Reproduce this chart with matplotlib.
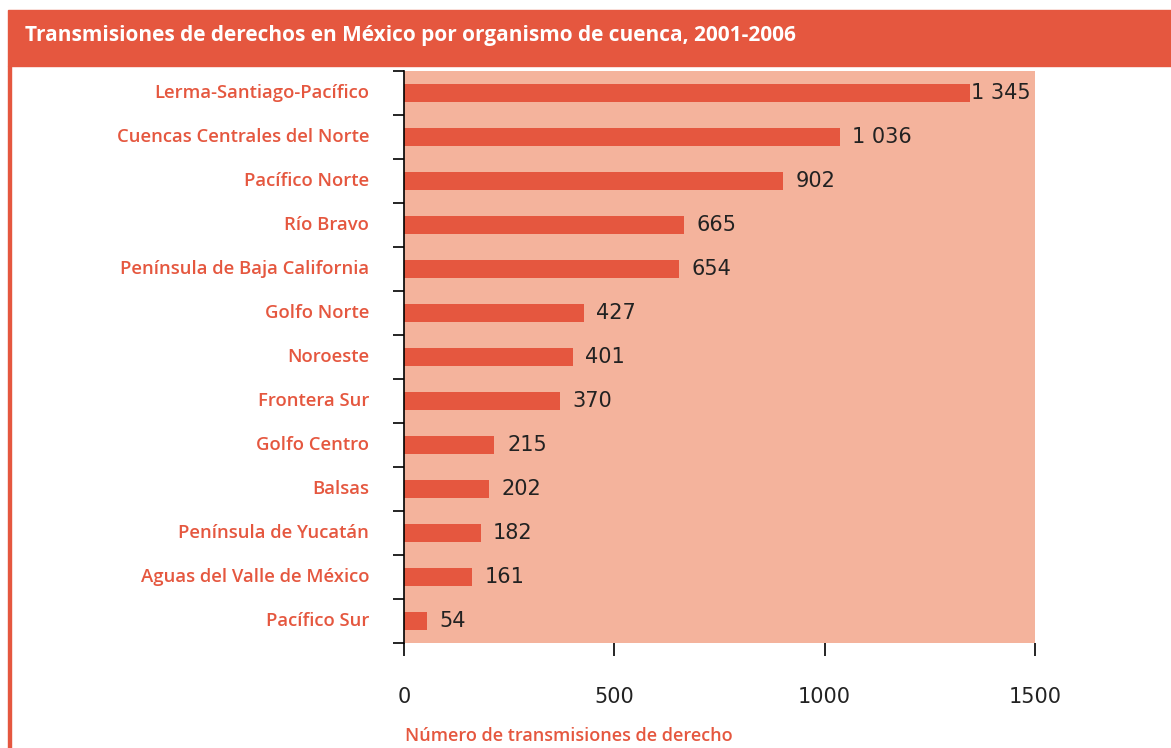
import matplotlib.pyplot as plt
import matplotlib.patches as mpatches

# Data (top to bottom)
organismos = ['Lerma-Santiago-Pacífico', 'Cuencas Centrales del Norte', 'Pacífico Norte',
              'Río Bravo', 'Península de Baja California', 'Golfo Norte', 'Noroeste',
              'Frontera Sur', 'Golfo Centro', 'Balsas', 'Península de Yucatán',
              'Aguas del Valle de México', 'Pacífico Sur']
transmisiones = [1345, 1036, 902, 665, 654, 427, 401, 370, 215, 202, 182, 161, 54]
etiquetas = ['1 345', '1 036', '902', '665', '654', '427', '401', '370', '215', '202',
             '182', '161', '54']
x_ticks = [0, 500, 1000, 1500]

RED = '#E5573F'
BG = '#F4B39C'

fig = plt.figure(figsize=(11.71, 7.48), dpi=100)

# header band and left border
fig.patches.append(mpatches.Rectangle((8 / 1171, 1 - 66 / 748), 1, 56 / 748,
                                      transform=fig.transFigure, color=RED, zorder=0))
fig.patches.append(mpatches.Rectangle((8 / 1171, 0), 3 / 1171, 1 - 66 / 748,
                                      transform=fig.transFigure, color=RED, zorder=0))
fig.text(25 / 1171, 1 - 35 / 748,
         'Transmisiones de derechos en México por organismo de cuenca, 2001-2006',
         color='white', fontsize=15, fontweight='bold', family='Open Sans', va='center')

ax = fig.add_axes([404 / 1171, 1 - 643 / 748, 631 / 1171, 572 / 748])
ax.set_facecolor(BG)

n = len(organismos)
ypos = list(range(n))
ax.barh(ypos, transmisiones, height=0.4, color=RED, zorder=2)
ax.set_ylim(n - 0.5, -0.5)
ax.set_xlim(0, 1500)

for y, v, lab in zip(ypos, transmisiones, etiquetas):
    off = 4 if v > 1300 else 30
    ax.text(v + off, y, lab, va='center', ha='left', fontsize=15,
            family='DejaVu Sans', color='#222222')

# category labels as text, ticks at boundaries
ax.set_yticks([i - 0.5 for i in range(n + 1)])
ax.set_yticklabels([])
ax.tick_params(axis='y', direction='out', length=8, width=1.2, color='black')
for y, name in zip(ypos, organismos):
    ax.text(-83, y, name, ha='right', va='center', fontsize=13.3, fontweight='semibold',
            family='Open Sans', color=RED)

ax.set_xticks(x_ticks)
ax.set_xticklabels([str(t) for t in x_ticks], fontsize=15, family='DejaVu Sans',
                   color='#222222')
ax.tick_params(axis='x', direction='out', length=9, width=1.2, pad=23)

for side in ['top', 'right', 'bottom']:
    ax.spines[side].set_visible(False)
ax.spines['left'].set_linewidth(1.2)

fig.text(405 / 1171, 1 - 736 / 748, 'Número de transmisiones de derecho',
         color=RED, fontsize=13, fontweight='semibold', family='Open Sans', va='center')

fig.savefig('out.png', dpi=100)
